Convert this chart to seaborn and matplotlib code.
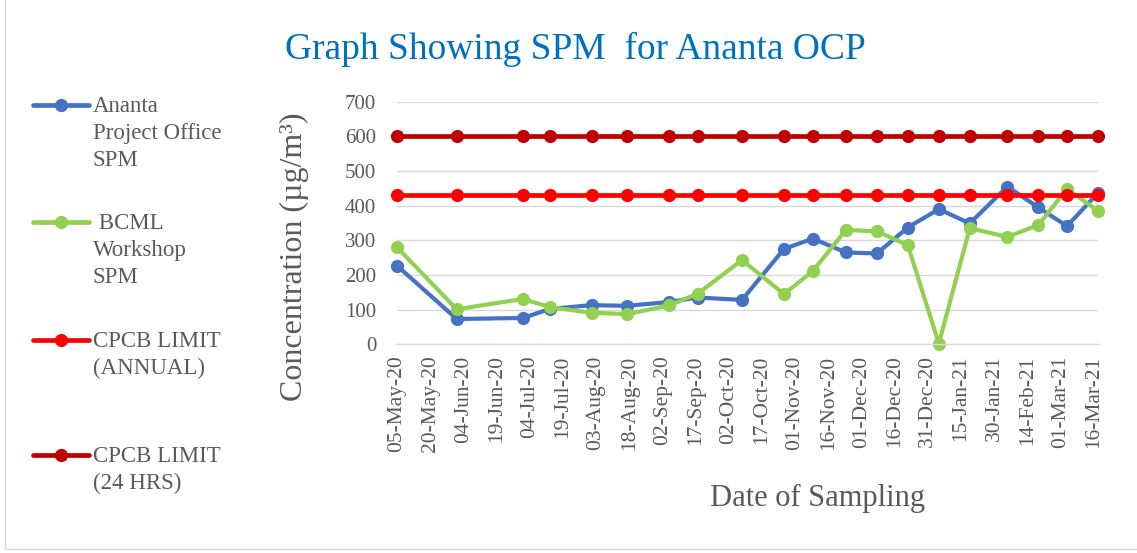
import matplotlib
matplotlib.use("Agg")
import matplotlib.pyplot as plt
from matplotlib.lines import Line2D
from matplotlib.patches import Rectangle
import seaborn as sns
import pandas as pd

# Datas de amostragem
sample_dates = ["05-May-20", "01-Jun-20", "01-Jul-20", "13-Jul-20", "01-Aug-20",
                "17-Aug-20", "05-Sep-20", "18-Sep-20", "08-Oct-20", "27-Oct-20",
                "09-Nov-20", "24-Nov-20", "08-Dec-20", "22-Dec-20", "05-Jan-21",
                "19-Jan-21", "05-Feb-21", "19-Feb-21", "04-Mar-21", "18-Mar-21"]

ananta_spm = [227, 73, 76, 102, 113, 111, 122, 135, 128, 275,
              305, 265, 262, 337, 390, 349, 455, 395, 341, 437]
bcml_spm = [280, 101, 131, 107, 91, 87, 112, 146, 243, 145,
            211, 330, 326, 286, 2, 335, 310, 344, 448, 385]
limit_annual = [430] * len(sample_dates)
limit_24h = [600] * len(sample_dates)

series_names = ["Ananta\nProject Office\nSPM", " BCML\nWorkshop\nSPM",
                "CPCB LIMIT\n(ANNUAL)", "CPCB LIMIT\n(24 HRS)"]
series_colors = ["#4472C4", "#92D050", "#FF0000", "#C00000"]

tick_labels = ["05-May-20", "20-May-20", "04-Jun-20", "19-Jun-20", "04-Jul-20",
               "19-Jul-20", "03-Aug-20", "18-Aug-20", "02-Sep-20", "17-Sep-20",
               "02-Oct-20", "17-Oct-20", "01-Nov-20", "16-Nov-20", "01-Dec-20",
               "16-Dec-20", "31-Dec-20", "15-Jan-21", "30-Jan-21", "14-Feb-21",
               "01-Mar-21", "16-Mar-21"]
y_ticks = [0, 100, 200, 300, 400, 500, 600, 700]

sns.set_style("white")
plt.rcParams['font.family'] = ['Liberation Serif', 'DejaVu Serif']
grey = "#595959"

dates = pd.to_datetime(sample_dates, format="%d-%b-%y")
frames = []
for name, vals in zip(series_names, [ananta_spm, bcml_spm, limit_annual, limit_24h]):
    frames.append(pd.DataFrame({"Date": dates, "Value": vals, "Series": name}))
df = pd.concat(frames, ignore_index=True)

fig = plt.figure(figsize=(11.37, 5.53), dpi=100)
W, H = 1137, 553
ax = fig.add_axes([397 / W, 1 - 344.3 / H, (1098 - 397) / W, (344.3 - 101.7) / H])

line_widths = [3.0, 3.0, 3.4, 3.4]
for name, color, lw in zip(series_names, series_colors, line_widths):
    sns.lineplot(data=df[df["Series"] == name], x="Date", y="Value", color=color,
                 linewidth=lw, marker="o", markersize=9.5, markeredgewidth=0,
                 legend=False, ax=ax)
for ln in ax.lines:
    ln.set_clip_on(False)

# Eixos
tick_dates = pd.to_datetime(tick_labels, format="%d-%b-%y")
ax.set_xlim(dates.min(), dates.max())
ax.set_ylim(0, 700)
ax.set_xticks(tick_dates)
ax.set_xticklabels(tick_labels, rotation=90, fontsize=15.5, color=grey)
ax.set_yticks(y_ticks)
ax.set_yticklabels([str(v) for v in y_ticks], fontsize=15, color=grey)
ax.tick_params(axis="y", length=0, pad=15)
ax.tick_params(axis="x", length=4, width=1, color="#d9d9d9", pad=4, direction="out")
ax.yaxis.grid(True, color="#d9d9d9", linewidth=1)
ax.xaxis.grid(False)
ax.set_axisbelow(True)
for s in ["top", "right", "left"]:
    ax.spines[s].set_visible(False)
ax.spines["bottom"].set_color("#d9d9d9")
ax.spines["bottom"].set_linewidth(1)

ax.set_ylabel("Concentration (µg/m³)", fontsize=23, color=grey)
ax.yaxis.set_label_coords(-0.126, 0.36)
ax.set_xlabel("Date of Sampling", fontsize=22, color=grey)
ax.xaxis.set_label_coords(0.6, -0.575)

fig.text(575 / W, 1 - 49 / H, "Graph Showing SPM  for Ananta OCP",
         ha="center", va="center", fontsize=27, color="#0070C0")

# Legenda manual à esquerda
legend_y = [105, 222, 340, 455]
for name, color, y in zip(series_names, series_colors, legend_y):
    fy = 1 - y / H
    fig.add_artist(Line2D([33 / W, 89 / W], [fy, fy], transform=fig.transFigure,
                          color=color, linewidth=3.4, solid_capstyle="round"))
    fig.add_artist(Line2D([61 / W], [fy], transform=fig.transFigure, color=color,
                          marker="o", markersize=9.5, markeredgewidth=0))
    fig.text(93 / W, fy + 9 / H, name, ha="left", va="top", fontsize=16.5,
             color=grey, linespacing=1.37)

# Moldura do gráfico
fig.add_artist(Rectangle((5 / W, 4 / H), 2, 2, transform=fig.transFigure,
                         fill=False, edgecolor="#d9d9d9", linewidth=1))

fig.savefig("out.png", dpi=100)
